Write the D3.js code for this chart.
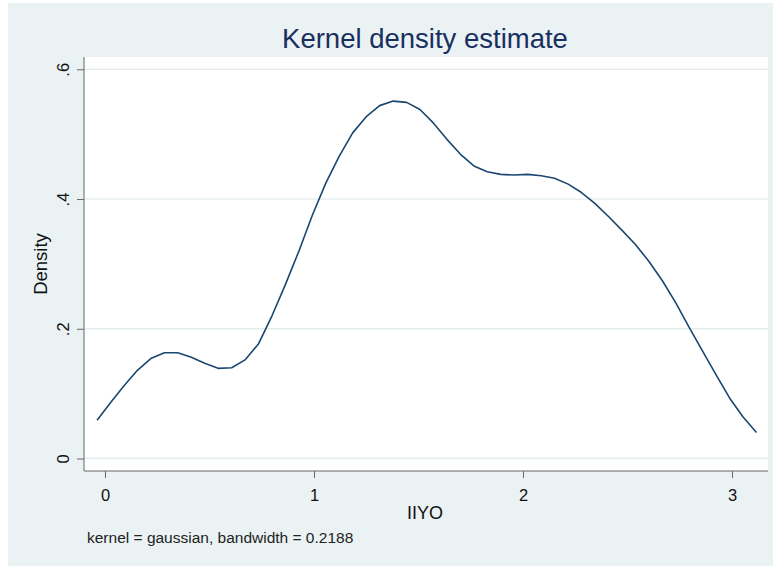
<!DOCTYPE html>
<html>
<head>
<meta charset="utf-8">
<script src="https://cdn.jsdelivr.net/npm/d3@7"></script>
<style>
  body { margin: 0; background: #fff; }
  svg { display: block; font-family: "Liberation Sans", Arial, sans-serif; }
  .axis path { display: none; }
  .axis line { stroke: #666; stroke-width: 1; }
  .axis text { fill: #111; font-size: 16.5px; }
</style>
</head>
<body>
<div id="chart"></div>
<script>
// evaluation points of the density (IIYO)
var gridX = [-0.038, 0.026, 0.091, 0.155, 0.219, 0.284, 0.348, 0.413, 0.477, 0.541,
  0.606, 0.670, 0.735, 0.799, 0.863, 0.928, 0.992, 1.057, 1.121, 1.185,
  1.250, 1.314, 1.379, 1.443, 1.507, 1.572, 1.636, 1.701, 1.765, 1.829,
  1.894, 1.958, 2.023, 2.087, 2.151, 2.216, 2.280, 2.345, 2.409, 2.473,
  2.538, 2.602, 2.667, 2.731, 2.795, 2.860, 2.924, 2.989, 3.053, 3.117];

// estimated density at each point
var density = [0.059, 0.086, 0.112, 0.136, 0.154, 0.163, 0.163, 0.156, 0.147, 0.139,
  0.140, 0.152, 0.177, 0.220, 0.268, 0.320, 0.375, 0.425, 0.466, 0.502,
  0.527, 0.544, 0.551, 0.549, 0.538, 0.517, 0.492, 0.469, 0.451, 0.442,
  0.438, 0.437, 0.438, 0.436, 0.432, 0.423, 0.410, 0.393, 0.373, 0.352,
  0.330, 0.304, 0.274, 0.240, 0.202, 0.165, 0.129, 0.093, 0.064, 0.040];

var xTicks = [0, 1, 2, 3];
var yTicks = [0, 0.2, 0.4, 0.6];

var title = "Kernel density estimate",
  xLabel = "IIYO",
  yLabel = "Density",
  note = "kernel = gaussian, bandwidth = 0.2188";

var width = 776, height = 567;
var plot = { left: 84, right: 768, top: 57, bottom: 471 };

var svg = d3.select("#chart").append("svg")
  .attr("width", width)
  .attr("height", height);

// graph region
svg.append("rect")
  .attr("x", 8).attr("y", 3)
  .attr("width", 765).attr("height", 563)
  .attr("fill", "#eaf2f3");

// plot region
svg.append("rect")
  .attr("x", plot.left).attr("y", plot.top)
  .attr("width", plot.right - plot.left)
  .attr("height", plot.bottom - plot.top)
  .attr("fill", "#fff");

var x = d3.scaleLinear().domain([0, 3]).range([105, 732]);
var y = d3.scaleLinear().domain([0, 0.6]).range([458.5, 69.3]);

// gridlines
svg.append("g").selectAll("line")
  .data(yTicks)
  .enter().append("line")
  .attr("x1", plot.left).attr("x2", plot.right)
  .attr("y1", d => y(d)).attr("y2", d => y(d))
  .attr("stroke", "#e3ecef")
  .attr("stroke-width", 1.3);

var fmtY = d => d === 0 ? "0" : d3.format(".1f")(d).replace(/^0/, "");

var yAxis = svg.append("g")
  .attr("class", "axis")
  .attr("transform", "translate(" + plot.left + ",0)")
  .call(d3.axisLeft(y).tickValues(yTicks).tickFormat(fmtY).tickSize(7).tickSizeOuter(0));

yAxis.selectAll("text")
  .attr("transform", "rotate(-90)")
  .attr("x", 0)
  .attr("y", -15)
  .attr("dy", 0)
  .attr("text-anchor", "middle");

var xAxis = svg.append("g")
  .attr("class", "axis")
  .attr("transform", "translate(0," + plot.bottom + ")")
  .call(d3.axisBottom(x).tickValues(xTicks).tickFormat(d3.format("d")).tickSize(7).tickSizeOuter(0));

xAxis.selectAll("text").attr("y", 18);

// axis lines
svg.append("line")
  .attr("x1", plot.left).attr("x2", plot.left)
  .attr("y1", plot.top).attr("y2", plot.bottom)
  .attr("stroke", "#666");
svg.append("line")
  .attr("x1", plot.left).attr("x2", plot.right)
  .attr("y1", plot.bottom).attr("y2", plot.bottom)
  .attr("stroke", "#666");

// density curve
var line = d3.line()
  .x((d, i) => x(gridX[i]))
  .y(d => y(d));

svg.append("path")
  .datum(density)
  .attr("d", line)
  .attr("fill", "none")
  .attr("stroke", "#1a476f")
  .attr("stroke-width", 1.6)
  .attr("stroke-linejoin", "round");

// titles
svg.append("text")
  .attr("x", 425).attr("y", 48)
  .attr("text-anchor", "middle")
  .attr("fill", "#1a2f60")
  .style("font-size", "27.5px")
  .text(title);

svg.append("text")
  .attr("x", 425).attr("y", 519)
  .attr("text-anchor", "middle")
  .attr("fill", "#111")
  .style("font-size", "18px")
  .text(xLabel);

svg.append("text")
  .attr("transform", "translate(46.5," + ((plot.top + plot.bottom) / 2) + ") rotate(-90)")
  .attr("text-anchor", "middle")
  .attr("fill", "#111")
  .style("font-size", "18.5px")
  .text(yLabel);

svg.append("text")
  .attr("x", 87).attr("y", 543)
  .attr("fill", "#222")
  .style("font-size", "15.5px")
  .text(note);
</script>
</body>
</html>
